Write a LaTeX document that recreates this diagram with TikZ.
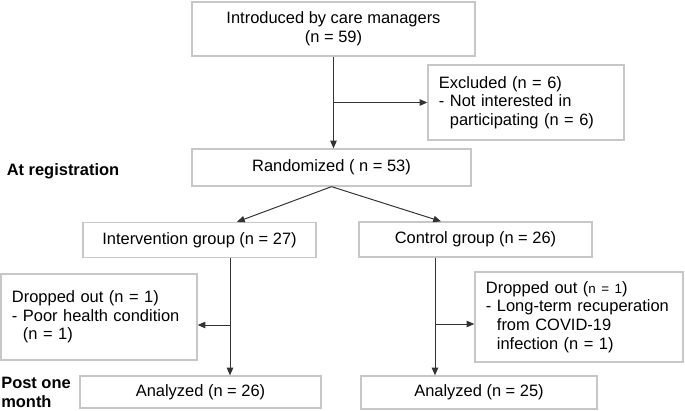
\documentclass[tikz,border=0pt]{standalone}
\usepackage{fontspec}
\setmainfont{Liberation Sans}
\usetikzlibrary{arrows.meta,positioning}

\begin{document}
\begin{tikzpicture}[x=0.025cm, y=-0.025cm,
  every node/.style={font=\fontsize{11.7}{13.3}\selectfont},
  flowbox/.style={draw=black!22, line width=0.9pt, rectangle, inner sep=0pt},
  notebox/.style={flowbox, align=left, inner xsep=0.275cm},
  phase/.style={font=\fontsize{11.7}{13.3}\selectfont\bfseries, align=left, inner xsep=0pt},
  link/.style={draw=black!80, line width=0.7pt},
  >={Triangle[length=5.5pt, width=4.6pt]}]

\useasboundingbox (0,0) rectangle (685,410);

% Enrolment
\node[flowbox, align=center, minimum width=7.075cm, minimum height=1.35cm] (intro) at (333.5,29) {Introduced by care managers\\(n = 59)};
\node[notebox, text width=4.35cm, minimum height=1.875cm] (excl) at (526,102.5) {Excluded (n = 6)\\- Not interested in\\\hphantom{- }participating (n = 6)};
\node[flowbox, minimum width=6.975cm, minimum height=0.925cm] (rand) at (331.5,167.5) {Randomized ( n = 53)};
\node[phase, anchor=west] (reg) at (6.5,171) {At registration};

% Allocation
\node[flowbox, minimum width=5.825cm, minimum height=0.875cm] (interv) at (199.5,240) {Intervention group (n = 27)};
\node[flowbox, minimum width=5.825cm, minimum height=0.875cm] (ctrl) at (475.5,239.5) {Control group (n = 26)};

% Follow-up
\node[notebox, text width=4.35cm, minimum height=2.15cm] (dropL) at (99,317) {Dropped out (n = 1)\\- Poor health condition\\\hphantom{- }(n = 1)};
\node[notebox, text width=4.65cm, minimum height=2.25cm] (dropR) at (579,317) {Dropped out ({\fontsize{9.5}{13.3}\selectfont n = 1})\\- Long-term recuperation\\\hphantom{- }from COVID-19\\\hphantom{- }infection (n = 1)};
\node[flowbox, minimum width=6.025cm, minimum height=0.8cm] (anaL) at (200.5,392) {Analyzed (n = 26)};
\node[flowbox, minimum width=5.9cm, minimum height=0.825cm] (anaR) at (479,392.5) {Analyzed (n = 25)};
\node[phase, anchor=west] (post) at (1,392.5) {Post one\\month};

\coordinate (ileg) at ([xshift=0.7625cm]interv.south);
\coordinate (cleg) at ([xshift=-1.0125cm]ctrl.south);
\coordinate (dropLarm) at ([yshift=-0.2cm]dropL.east);
\coordinate (dropRarm) at ([yshift=-0.175cm]dropR.west);

\draw[link, ->] (intro.south) -- (intro.south |- rand.north);
\draw[link, ->] (intro.south |- excl.west) -- (excl.west);
\draw[link, ->] (rand.south) -- ([xshift=0.9375cm]interv.north);
\draw[link, ->] (rand.south) -- ([xshift=-0.8625cm]ctrl.north);
\draw[link, ->] (ileg) -- (ileg |- anaL.north);
\draw[link, ->] (ileg |- dropLarm) -- (dropLarm);
\draw[link, ->] (cleg) -- (cleg |- anaR.north);
\draw[link, ->] (cleg |- dropRarm) -- (dropRarm);
\end{tikzpicture}
\end{document}
